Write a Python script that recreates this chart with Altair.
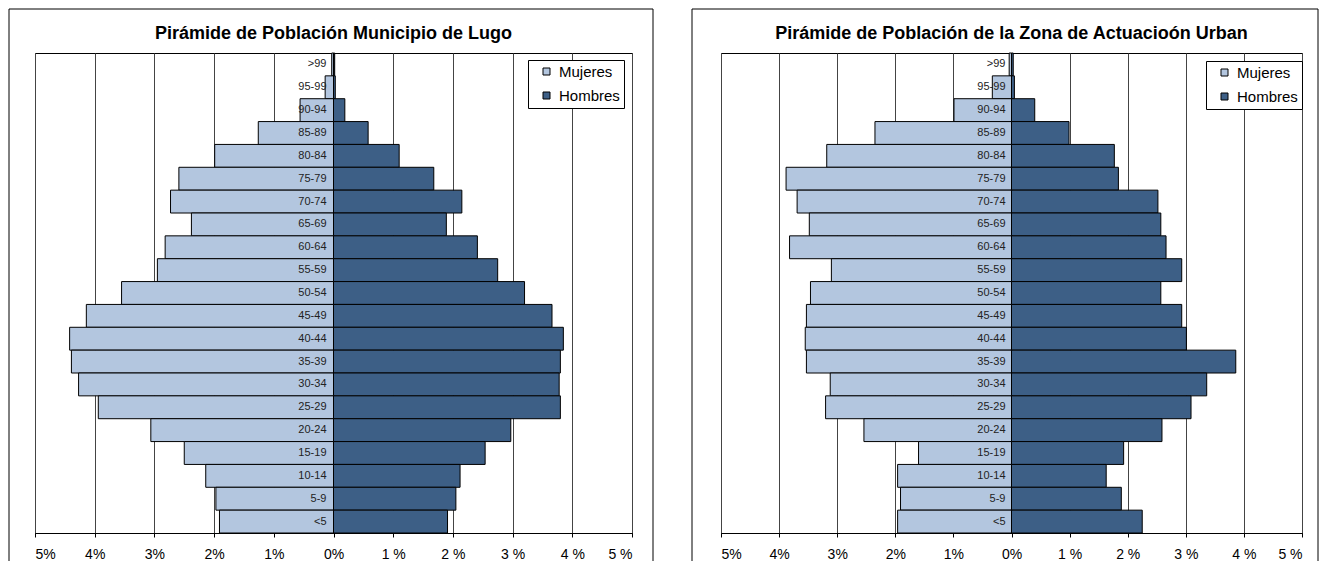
import altair as alt
import pandas as pd

FONT = "Liberation Sans"

ages = [">99", "95-99", "90-94", "85-89", "80-84", "75-79", "70-74", "65-69",
        "60-64", "55-59", "50-54", "45-49", "40-44", "35-39", "30-34", "25-29",
        "20-24", "15-19", "10-14", "5-9", "<5"]
sexes = ["Mujeres", "Hombres"]
sex_colors = ["#b3c6df", "#3d5f86"]
ticks = [-5, -4, -3, -2, -1, 0, 1, 2, 3, 4, 5]

title_lugo = "Pirámide de Población Municipio de Lugo"
mujeres_lugo = [0.03, 0.14, 0.56, 1.26, 1.99, 2.59, 2.73, 2.38, 2.82, 2.95, 3.55,
                4.14, 4.42, 4.39, 4.27, 3.94, 3.06, 2.50, 2.14, 1.97, 1.91]
hombres_lugo = [0.02, 0.03, 0.19, 0.58, 1.10, 1.68, 2.15, 1.89, 2.41, 2.75, 3.20,
                3.66, 3.85, 3.80, 3.78, 3.80, 2.97, 2.54, 2.12, 2.05, 1.91]

title_urban = "Pirámide de Población de la Zona de Actuacioón Urban"
mujeres_urban = [0.04, 0.33, 0.99, 2.35, 3.18, 3.88, 3.69, 3.48, 3.82, 3.10, 3.46,
                 3.53, 3.55, 3.53, 3.12, 3.20, 2.54, 1.60, 1.96, 1.91, 1.96]
hombres_urban = [0.03, 0.05, 0.40, 0.99, 1.77, 1.84, 2.52, 2.57, 2.66, 2.93, 2.57,
                 2.93, 3.01, 3.86, 3.36, 3.09, 2.59, 1.93, 1.63, 1.89, 2.25]

H = 480
FRAME_TOP = -44
FRAME_BOTTOM = H + 28


def panel(title, muj, hom, width, frame_l, frame_r, legend_x, legend_y, label_dx):
    df = pd.DataFrame({
        "age": ages * 2,
        "sex": ["Mujeres"] * len(ages) + ["Hombres"] * len(ages),
        "value": [-v for v in muj] + list(hom),
    })
    x = alt.X(
        "value:Q",
        scale=alt.Scale(domain=[-5, 5], nice=False, zero=False),
        axis=alt.Axis(
            values=ticks,
            labelExpr="datum.value <= 0 ? abs(datum.value) + '%' : datum.value + ' %'",
            title=None, grid=True, gridColor="#444", gridOpacity=1, gridWidth=1,
            domainColor="black", domainWidth=1, tickColor="black", tickSize=4,
            labelFont=FONT, labelFontSize=14, labelColor="black", labelPadding=10,
        ),
    )
    y = alt.Y("age:N", sort=ages, axis=None,
              scale=alt.Scale(paddingInner=0, paddingOuter=0))
    bars = alt.Chart(df).mark_bar(stroke="black", strokeWidth=1).encode(
        x=x,
        y=y,
        color=alt.Color(
            "sex:N",
            scale=alt.Scale(domain=sexes, range=sex_colors),
            legend=alt.Legend(
                title=None, orient="none", legendX=legend_x, legendY=legend_y,
                fillColor="white", strokeColor="black", padding=4,
                symbolType="square", symbolSize=49, symbolStrokeColor="black",
                symbolStrokeWidth=1, symbolOffset=7, labelOffset=5,
                labelFont=FONT, labelFontSize=15, labelColor="black",
                rowPadding=8,
            ),
        ),
    )
    labels = alt.Chart(pd.DataFrame({"age": ages})).mark_text(
        align="right", baseline="middle", dx=label_dx, font=FONT,
        fontSize=11, color="#222"
    ).encode(
        x=alt.datum(0),
        y=alt.Y("age:N", sort=ages, axis=None),
        text="age:N",
    )
    fdf = pd.DataFrame({"k": [0]})
    top = alt.Chart(fdf).mark_rule(color="black", strokeWidth=1).encode(
        x=alt.value(frame_l), x2=alt.value(width + frame_r),
        y=alt.value(FRAME_TOP), y2=alt.value(FRAME_TOP))
    left = alt.Chart(fdf).mark_rule(color="black", strokeWidth=1).encode(
        x=alt.value(frame_l), x2=alt.value(frame_l),
        y=alt.value(FRAME_TOP), y2=alt.value(FRAME_BOTTOM))
    right = alt.Chart(fdf).mark_rule(color="black", strokeWidth=1).encode(
        x=alt.value(width + frame_r), x2=alt.value(width + frame_r),
        y=alt.value(FRAME_TOP), y2=alt.value(FRAME_BOTTOM))
    return alt.layer(bars, labels, top, left, right).properties(
        width=width, height=H,
        title=alt.Title(title, font=FONT, fontSize=18, fontWeight="bold",
                        color="black", anchor="middle", frame="group",
                        baseline="alphabetic", offset=-48.5),
    )


c1 = panel(title_lugo, mujeres_lugo, hombres_lugo, 597, -26, 21, 493, 7, -7)
c2 = panel(title_urban, mujeres_urban, hombres_urban, 581, -29, 16, 485, 8, -6)

chart = alt.hconcat(c1, c2, spacing=37).resolve_scale(
    x="independent", y="independent", color="independent"
).resolve_legend(color="independent").properties(padding=0).configure_view(
    stroke="black", strokeWidth=1
)

chart.save("out.html", embed_options={"renderer": "svg", "actions": False})
